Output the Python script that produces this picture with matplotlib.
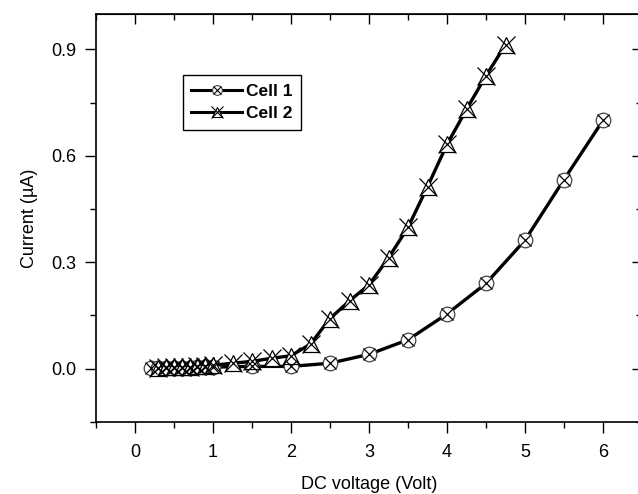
import numpy as np
import matplotlib.pyplot as plt
from matplotlib.ticker import MultipleLocator, FormatStrFormatter
from matplotlib.legend_handler import HandlerTuple

plt.rcParams['font.family'] = ['Liberation Sans', 'DejaVu Sans']

# Cell 1 data
v1 = [0.2, 0.3, 0.4, 0.5, 0.6, 0.7, 0.8, 0.9, 1.0, 1.5, 2.0, 2.5, 3.0, 3.5, 4.0, 4.5, 5.0, 5.5, 6.0]
i1 = [0.001, 0.001, 0.001, 0.002, 0.002, 0.002, 0.003, 0.003, 0.004, 0.006, 0.006, 0.015,
      0.040, 0.081, 0.154, 0.240, 0.362, 0.533, 0.700]

# Cell 2 data
v2 = [0.3, 0.4, 0.5, 0.6, 0.7, 0.8, 0.9, 1.0, 1.25, 1.5, 1.75, 2.0, 2.25, 2.5, 2.75,
      3.0, 3.25, 3.5, 3.75, 4.0, 4.25, 4.5, 4.75]
i2 = [0.002, 0.003, 0.003, 0.004, 0.005, 0.006, 0.007, 0.009, 0.015, 0.020, 0.029, 0.036,
      0.069, 0.141, 0.191, 0.236, 0.312, 0.398, 0.513, 0.632, 0.731, 0.826, 0.913]

fig = plt.figure(figsize=(6.38, 4.94), dpi=100)
ax = fig.add_axes([96/638, 1 - 421.7/494, (642-96)/638, (421.7-14)/494])

lw = 2.4
ax.plot(v1, i1, '-', color='black', lw=lw, marker='o', ms=10.5,
        mfc='white', mec='#444444', mew=0.9, zorder=3)
ax.plot(v1, i1, ' ', marker='x', ms=8.5, mec='black', mew=0.9, zorder=4)
ax.plot(v2, i2, '-', color='black', lw=lw, marker='^', ms=11,
        mfc='white', mec='black', mew=0.9, zorder=3)
ax.plot(v2, i2, ' ', marker='x', ms=13, mec='black', mew=0.9, zorder=4)

ax.set_xlim(-0.5, 6.5)
ax.set_ylim(-0.1, 1.0)
ax.xaxis.set_major_locator(MultipleLocator(1))
ax.xaxis.set_minor_locator(MultipleLocator(0.5))
ax.set_yticks([0.0, 0.3, 0.6, 0.9])
ax.set_yticks([-0.15, 0.15, 0.45, 0.75], minor=True)
ax.yaxis.set_major_formatter(FormatStrFormatter('%.1f'))

ax.tick_params(which='both', direction='out', top=False, right=False, labelsize=13, width=1)
ax.tick_params(which='major', length=8)
ax.tick_params(which='minor', length=4.5)
ax.tick_params(axis='x', which='major', pad=8)
ax.tick_params(axis='y', which='major', pad=6)

# top and right ticks pointing inward
secx = ax.secondary_xaxis('top')
secx.xaxis.set_major_locator(MultipleLocator(1))
secx.xaxis.set_minor_locator(MultipleLocator(0.5))
secx.tick_params(which='both', direction='in', labeltop=False, width=1)
secx.tick_params(which='major', length=7)
secx.tick_params(which='minor', length=4)
secy = ax.secondary_yaxis('right')
secy.set_yticks([0.0, 0.3, 0.6, 0.9])
secy.set_yticks([-0.15, 0.15, 0.45, 0.75], minor=True)
secy.tick_params(which='both', direction='in', labelright=False, width=1)
secy.tick_params(which='major', length=7)
secy.tick_params(which='minor', length=4)

for s in ax.spines.values():
    s.set_linewidth(1.2)

ax.set_xlabel('DC voltage (Volt)', fontsize=13, labelpad=11)
ax.set_ylabel('Current (\u00b5A)', fontsize=13, labelpad=10)

# legend proxies with smaller markers
l1o, = ax.plot([], [], '-', color='black', lw=2.2, marker='o', ms=7, mfc='white', mec='#444444', mew=0.8)
l1x, = ax.plot([], [], ' ', marker='x', ms=5.5, mec='black', mew=0.8)
l2o, = ax.plot([], [], '-', color='black', lw=2.2, marker='^', ms=7, mfc='white', mec='black', mew=0.8)
l2x, = ax.plot([], [], ' ', marker='x', ms=8, mec='black', mew=0.8)
leg = ax.legend([(l1o, l1x), (l2o, l2x)], ['Cell 1', 'Cell 2'],
                handler_map={tuple: HandlerTuple(ndivide=1, pad=0)},
                loc='upper left', bbox_to_anchor=(0.159, 0.85), fancybox=False,
                edgecolor='black', framealpha=1, borderpad=0.5, labelspacing=0.4,
                handlelength=2.9, handletextpad=0.25, borderaxespad=0,
                prop={'weight': 'bold', 'size': 12.5})
leg.get_frame().set_linewidth(1.0)

fig.savefig('out.png', dpi=100)
